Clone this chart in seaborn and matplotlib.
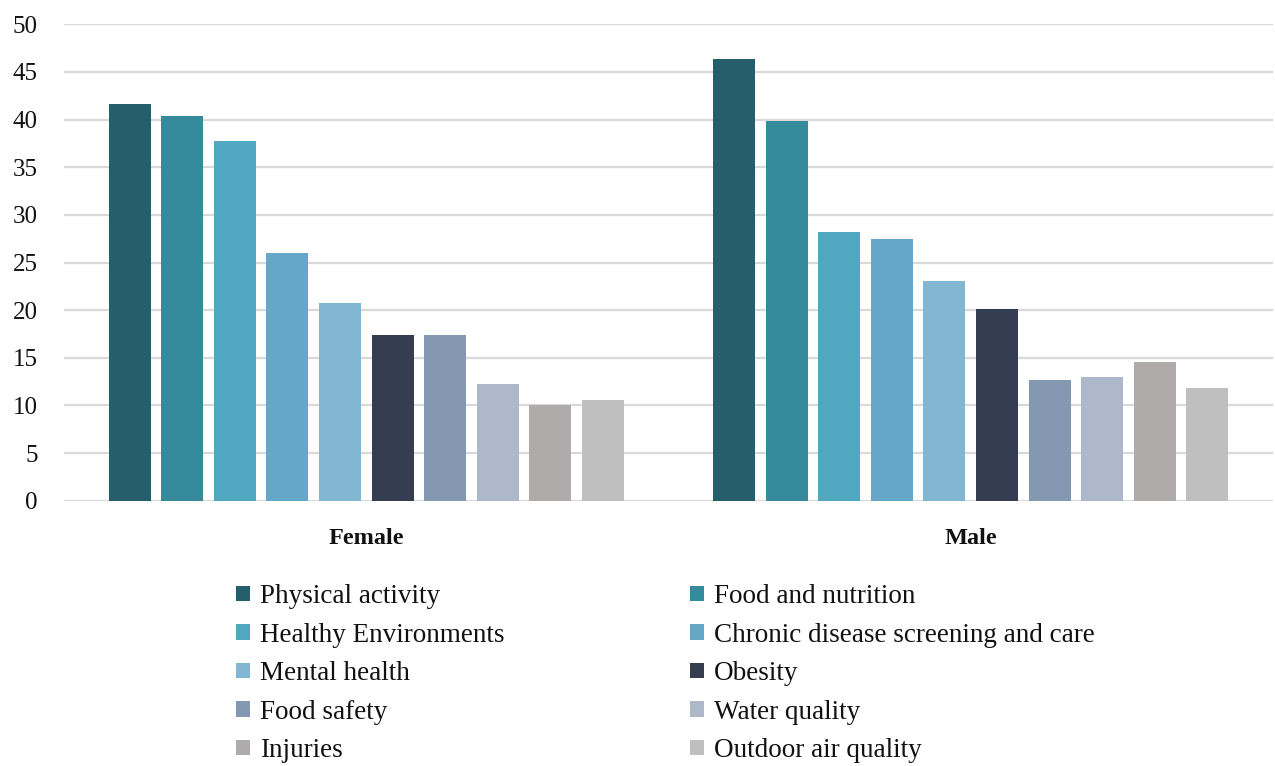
import matplotlib
matplotlib.use("Agg")
import matplotlib.pyplot as plt
import seaborn as sns
import pandas as pd

# Share of respondents (%) naming each public-health priority, by sex
groups = ["Female", "Male"]
topics = [
    "Physical activity",
    "Food and nutrition",
    "Healthy Environments",
    "Chronic disease screening and care",
    "Mental health",
    "Obesity",
    "Food safety",
    "Water quality",
    "Injuries",
    "Outdoor air quality",
]
female_values = [41.6, 40.4, 37.7, 26.0, 20.8, 17.4, 17.4, 12.3, 10.0, 10.6]
male_values = [46.4, 39.8, 28.2, 27.5, 23.1, 20.1, 12.7, 13.0, 14.6, 11.8]
colors = [
    "#245f6b", "#358a9c", "#50a8c0", "#65a7c8", "#82b6d2",
    "#343e50", "#8598b1", "#adb8cb", "#afabab", "#bfbfbf",
]
y_ticks = [0, 5, 10, 15, 20, 25, 30, 35, 40, 45, 50]

df = pd.DataFrame({
    "group": [g for g in groups for _ in topics],
    "topic": topics * len(groups),
    "value": female_values + male_values,
})

sns.set_theme(style="white")
plt.rcParams["font.family"] = ["Liberation Serif", "DejaVu Serif"]

fig = plt.figure(figsize=(12.75, 7.66), dpi=100)
ax = fig.add_axes([64 / 1275, 1 - 500.7 / 766, 1209 / 1275, 476.4 / 766])

sns.barplot(
    data=df, x="group", y="value", hue="topic",
    order=groups, hue_order=topics, palette=colors,
    width=0.87, gap=0.2, linewidth=0, saturation=1,
    legend=True, ax=ax,
)

ax.set_xlim(-0.5, 1.5)
ax.set_ylim(0, 50)
ax.set_yticks(y_ticks)
ax.set_yticklabels([str(t) for t in y_ticks], fontsize=18, color="#111111")
ax.set_xlabel("")
ax.set_ylabel("")
ax.tick_params(axis="y", length=0, pad=19)
ax.tick_params(axis="x", length=0, pad=20)
for lbl in ax.get_xticklabels():
    lbl.set_fontsize(17.5)
    lbl.set_fontweight("bold")
    lbl.set_color("#111111")

ax.yaxis.grid(True, color="#d9d9d9", linewidth=1.6)
ax.set_axisbelow(True)
for s in ax.spines.values():
    s.set_visible(False)

# Two-column legend, filled row by row
handles, labels = ax.get_legend_handles_labels()
ax.get_legend().remove()
legend_kw = dict(
    frameon=False, fontsize=19.5, loc="upper left", borderpad=0,
    handlelength=0.52, handleheight=0.52, handletextpad=0.37,
    labelspacing=0.5, borderaxespad=0,
)
left_col = fig.legend(handles[0::2], labels[0::2],
                      bbox_to_anchor=(236 / 1275, 1 - 584 / 766), **legend_kw)
right_col = fig.legend(handles[1::2], labels[1::2],
                       bbox_to_anchor=(690 / 1275, 1 - 584 / 766), **legend_kw)
for leg in (left_col, right_col):
    for t in leg.get_texts():
        t.set_color("#111111")

fig.savefig("out.png", dpi=100)
